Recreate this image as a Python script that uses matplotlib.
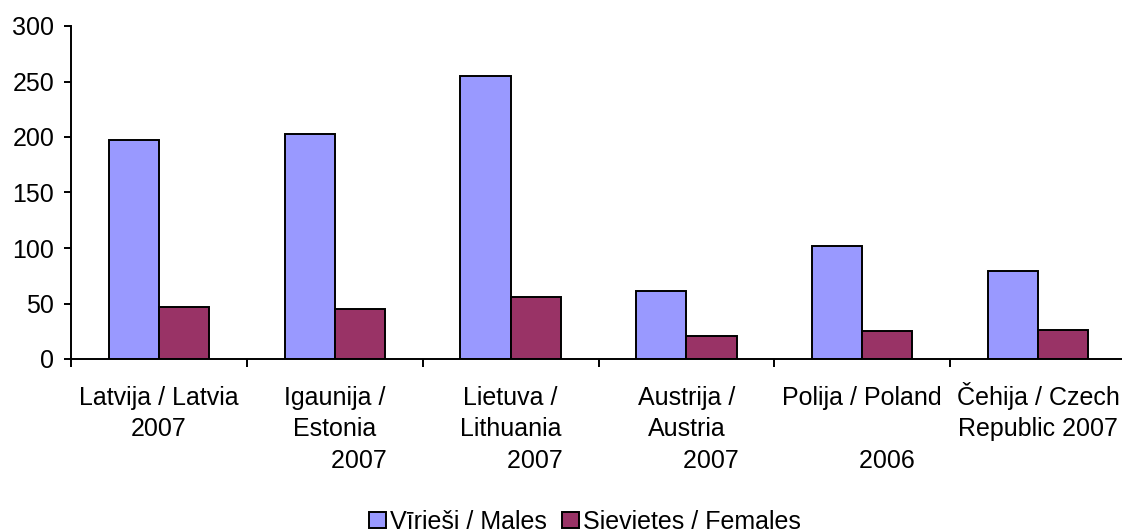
import numpy as np
import matplotlib
matplotlib.use("Agg")
import matplotlib.pyplot as plt
from matplotlib.patches import Patch

plt.rcParams['font.family'] = ['Liberation Sans', 'DejaVu Sans']
plt.rcParams['font.size'] = 18

# dati
countries = ["Latvija / Latvia\n2007",
             "Igaunija /\nEstonia\n       2007",
             "Lietuva /\nLithuania\n       2007",
             "Austrija /\nAustria\n       2007",
             "Polija / Poland\n\n       2006",
             "Čehija / Czech\nRepublic 2007"]
males = [197, 203, 255, 61, 102, 79]
females = [47, 45, 56, 21, 25, 26]
series_names = ["Vīrieši / Males", "Sievietes / Females"]
colors = ["#9999FF", "#993366"]

fig = plt.figure(figsize=(11.22, 5.32), dpi=100)
ax = fig.add_axes([71 / 1122, 1 - 359 / 532, 1055 / 1122, 333 / 532])

x = np.arange(len(countries)) + 0.5
w = 0.285
ax.bar(x - w / 2, males, w, color=colors[0], edgecolor="black", linewidth=1.4)
ax.bar(x + w / 2, females, w, color=colors[1], edgecolor="black", linewidth=1.4)

ax.set_xlim(0, len(countries))
ax.set_ylim(0, 300)
ax.set_yticks(range(0, 301, 50))
ax.tick_params(axis="y", direction="out", length=5, width=1.4, pad=7)

# ticks pie kategoriju robežām, nosaukumi zem katras grupas (pa rindām)
ax.set_xticks(np.arange(len(countries) + 1))
ax.set_xticklabels([])
ax.tick_params(axis="x", which="major", direction="out", length=6, width=1.4)
for xi, name in zip(x, countries):
    for j, line in enumerate(name.split("\n")):
        ax.annotate(line, xy=(xi, 0), xycoords=("data", "axes fraction"),
                    xytext=(0, -33 - 22.7 * j), textcoords="offset points",
                    ha="center", va="baseline", annotation_clip=False)

for s in ["top", "right"]:
    ax.spines[s].set_visible(False)
for s in ["left", "bottom"]:
    ax.spines[s].set_linewidth(1.4)

handles = [Patch(facecolor=c, edgecolor="black", linewidth=1.4) for c in colors]
fig.legend(handles, series_names, loc="center", bbox_to_anchor=(585 / 1122, 1 - 522 / 532),
           ncol=2, frameon=False, handlelength=0.68, handleheight=0.6,
           handletextpad=0.16, columnspacing=0.6, borderpad=0)

fig.savefig("out.png", dpi=100)
